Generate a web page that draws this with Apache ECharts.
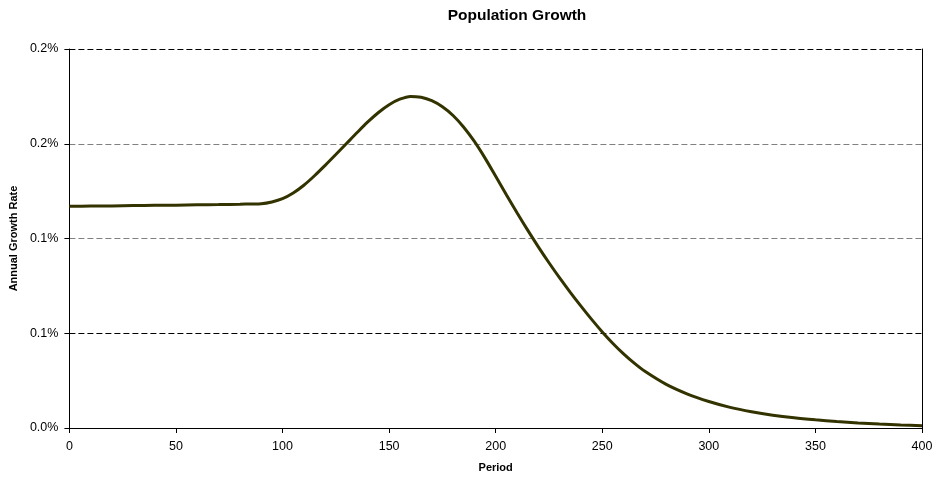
<!DOCTYPE html>
<html>
<head>
<meta charset="utf-8">
<script src="https://cdn.jsdelivr.net/npm/echarts@6/dist/echarts.min.js"></script>
<style>
  html, body { margin: 0; padding: 0; background: #fff; }
  #chart { width: 937px; height: 478px; }
</style>
</head>
<body>
<div id="chart"></div>
<script>
// Period (x) and annual growth rate (fraction) of the population model
const periods = [0, 10, 20, 30, 40, 50, 60, 70, 80, 90, 95, 100, 105, 110, 115, 120, 125, 130, 135, 140, 145, 150, 155, 160, 165, 170, 175, 180, 185, 190, 195, 200, 205, 210, 215, 220, 225, 230, 235, 240, 245, 250, 255, 260, 265, 270, 280, 290, 300, 310, 320, 330, 340, 350, 360, 370, 380, 390, 400];
const growthRate = [0.001170, 0.001171, 0.001172, 0.001174, 0.001175, 0.001176, 0.001178, 0.001179, 0.001181, 0.001184, 0.001193, 0.001210, 0.001240, 0.001281, 0.001331, 0.001386, 0.001443, 0.001501, 0.001559, 0.001615, 0.001665, 0.001706, 0.001735, 0.001750, 0.001745, 0.001727, 0.001695, 0.001649, 0.001587, 0.001512, 0.001424, 0.001328, 0.001231, 0.001136, 0.001044, 0.000956, 0.000872, 0.000792, 0.000716, 0.000643, 0.000573, 0.000507, 0.000446, 0.000391, 0.000342, 0.000299, 0.000230, 0.000179, 0.000140, 0.000109, 0.0000858, 0.0000676, 0.0000538, 0.0000432, 0.0000342, 0.0000269, 0.0000211, 0.0000163, 0.0000121];

// Y tick labels, one decimal place as printed on the axis
const yTickLabels = ['0.0%', '0.1%', '0.1%', '0.2%', '0.2%'];
const yMin = 0, yMax = 0.002, yStep = 0.0005;

const FONT = '"Liberation Sans", Arial, sans-serif';

const points = periods.map((p, i) => [p, growthRate[i]]);

const chart = echarts.init(document.getElementById('chart'), null, { renderer: 'canvas' });

chart.setOption({
  backgroundColor: '#ffffff',
  animation: false,
  title: {
    text: 'Population Growth',
    left: 512,
    top: 3,
    textAlign: 'center',
    textStyle: { fontFamily: FONT, fontWeight: 'bold', fontSize: 15.5, color: '#000' }
  },
  grid: { left: 66, right: 15, top: 49, bottom: 50, containLabel: false },
  xAxis: {
    type: 'value',
    min: 0,
    max: 400,
    interval: 50,
    name: 'Period',
    nameLocation: 'middle',
    nameGap: 34,
    nameTextStyle: { fontFamily: FONT, fontWeight: 'bold', fontSize: 11, color: '#000' },
    axisLine: { show: true, lineStyle: { color: '#000', width: 1 } },
    axisTick: { show: true, length: 5, lineStyle: { color: '#000' } },
    axisLabel: { fontFamily: FONT, fontSize: 12.5, color: '#000', margin: 12 },
    splitLine: { show: false }
  },
  yAxis: [{
    type: 'value',
    min: yMin,
    max: yMax,
    interval: yStep,
    name: 'Annual Growth Rate',
    nameLocation: 'middle',
    nameGap: 39,
    nameTextStyle: { fontFamily: FONT, fontWeight: 'bold', fontSize: 11, color: '#000' },
    axisLine: { show: true, lineStyle: { color: '#000', width: 1 } },
    axisTick: { show: true, length: 5, lineStyle: { color: '#000' } },
    axisLabel: {
      fontFamily: FONT, fontSize: 12.5, color: '#000', margin: 11,
      formatter: (v) => yTickLabels[Math.round((v - yMin) / yStep)]
    },
    splitLine: {
      show: true,
      lineStyle: { color: ['#000', '#000', '#808080', '#808080', '#000'], type: [6, 3], width: 1 }
    }
  }, {
    type: 'value',
    position: 'right',
    min: yMin,
    max: yMax,
    interval: yStep,
    axisLine: { show: true, lineStyle: { color: '#000', width: 1 } },
    axisTick: { show: false },
    axisLabel: { show: false },
    splitLine: { show: false }
  }],
  series: [{
    type: 'line',
    data: points,
    yAxisIndex: 0,
    smooth: 0.3,
    showSymbol: false,
    lineStyle: { color: '#333300', width: 3 },
    z: 5
  }]
});
</script>
</body>
</html>
